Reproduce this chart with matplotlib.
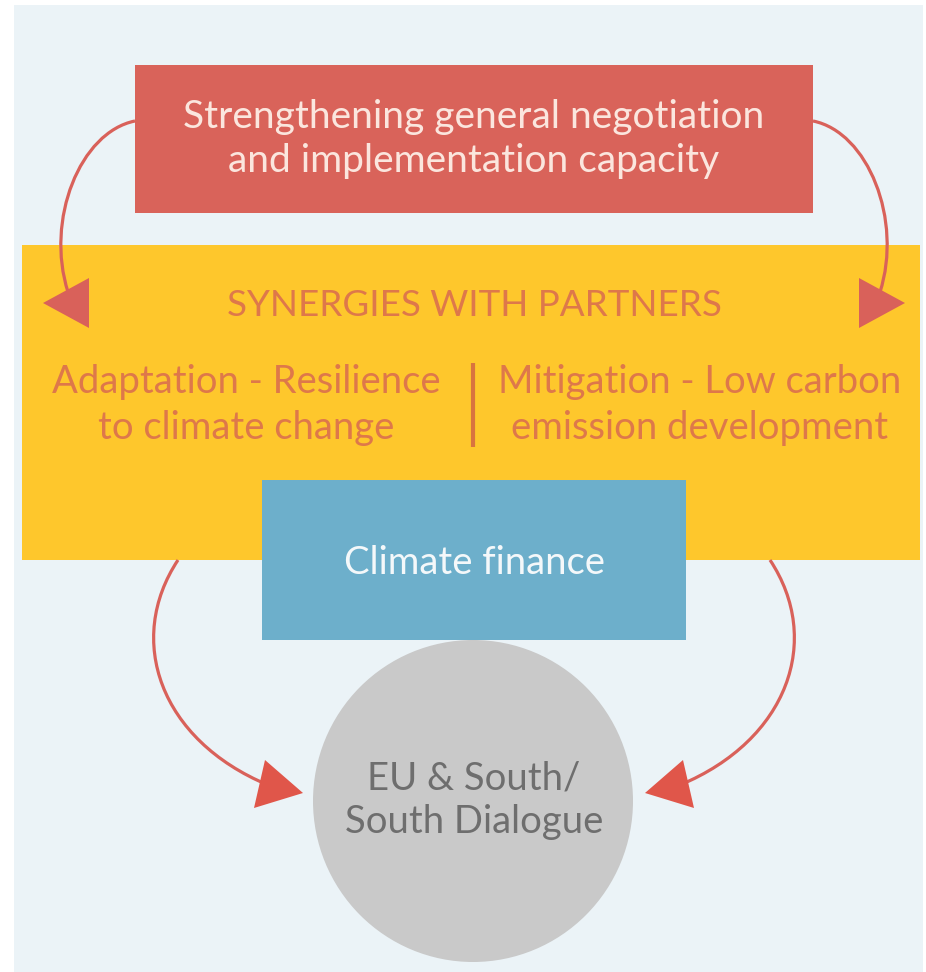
import matplotlib
matplotlib.use("Agg")
import matplotlib.pyplot as plt
from matplotlib.patches import Rectangle, Ellipse, Polygon, PathPatch
from matplotlib.path import Path

# ---- content ----
top_label = "Strengthening general negotiation\nand implementation capacity"
band_title = "SYNERGIES WITH PARTNERS"
left_label = "Adaptation - Resilience\nto climate change"
right_label = "Mitigation - Low carbon\nemission development"
finance_label = "Climate finance"
dialogue_label = "EU & South/\nSouth Dialogue"

# ---- colours ----
BG = "#EBF3F7"
RED = "#D9635A"
YELLOW = "#FEC72C"
BLUE = "#6DAFCB"
GRAY = "#C9C9C9"
ORANGE_TXT = "#DE784A"
DIVIDER = "#D9733F"
ARROW = "#D9615A"
ARROW2 = "#E0564A"

W, H = 926, 972
fig = plt.figure(figsize=(W / 100, H / 100), dpi=100)
ax = fig.add_axes([0, 0, 1, 1])
ax.set_xlim(0, W)
ax.set_ylim(H, 0)
ax.axis("off")
fig.patch.set_facecolor("white")

FONT = "Lato"

# background panel
ax.add_patch(Rectangle((14, 5), 909, 967, facecolor=BG, edgecolor="none", zorder=0))

# yellow band
ax.add_patch(Rectangle((22, 245), 898, 315, facecolor=YELLOW, edgecolor="none", zorder=1))

# red box
ax.add_patch(Rectangle((135, 65), 678, 148, facecolor=RED, edgecolor="none", zorder=2))

# blue box
ax.add_patch(Rectangle((262, 480), 424, 160, facecolor=BLUE, edgecolor="none", zorder=3))

# gray circle
ax.add_patch(Ellipse((473, 801), 320, 322, facecolor=GRAY, edgecolor="none", zorder=3))

# divider
ax.plot([473, 473], [363, 447], color=DIVIDER, lw=3.0, solid_capstyle="butt", zorder=4)

CX = 948  # mirror axis * 2


def curve(pts, color):
    path = Path(pts, [Path.MOVETO, Path.CURVE4, Path.CURVE4, Path.CURVE4])
    ax.add_patch(PathPatch(path, facecolor="none", edgecolor=color, lw=2.3, zorder=4))


def mirror(pts):
    return [(CX - x, y) for x, y in pts]


# top curves
tl = [(135, 121), (80, 132), (45, 220), (68, 292)]
curve(tl, ARROW)
curve(mirror(tl), ARROW)
head_tl = [(43, 303), (89, 278), (89, 328)]
ax.add_patch(Polygon(head_tl, closed=True, facecolor=ARROW, edgecolor="none", zorder=5))
ax.add_patch(Polygon(mirror(head_tl), closed=True, facecolor=ARROW, edgecolor="none", zorder=5))

# bottom curves
bl = [(178, 560), (125, 640), (160, 740), (268, 785)]
curve(bl, ARROW)
curve(mirror(bl), ARROW)
head_bl = [(265, 760), (303, 793), (254, 808)]
ax.add_patch(Polygon(head_bl, closed=True, facecolor=ARROW2, edgecolor="none", zorder=5))
ax.add_patch(Polygon(mirror(head_bl), closed=True, facecolor=ARROW2, edgecolor="none", zorder=5))

# texts
ax.text(474, 139, top_label, ha="center", va="center", fontsize=28, color="#FBE6DE",
        family=FONT, linespacing=1.28, zorder=6)
ax.text(474, 305, band_title, ha="center", va="center", fontsize=26.5, color=ORANGE_TXT,
        family=FONT, zorder=6)
ax.text(246, 405, left_label, ha="center", va="center", fontsize=27.5, color=ORANGE_TXT,
        family=FONT, linespacing=1.33, zorder=6)
ax.text(700, 405, right_label, ha="center", va="center", fontsize=27.5, color=ORANGE_TXT,
        family=FONT, linespacing=1.33, zorder=6)
ax.text(474, 563, finance_label, ha="center", va="center", fontsize=27.5, color="#F4F8FA",
        family=FONT, zorder=6)
ax.text(474, 800, dialogue_label, ha="center", va="center", fontsize=27.5, color="#6E6E6E",
        family=FONT, linespacing=1.26, zorder=6)

fig.savefig("out.png", dpi=100, facecolor="white")
